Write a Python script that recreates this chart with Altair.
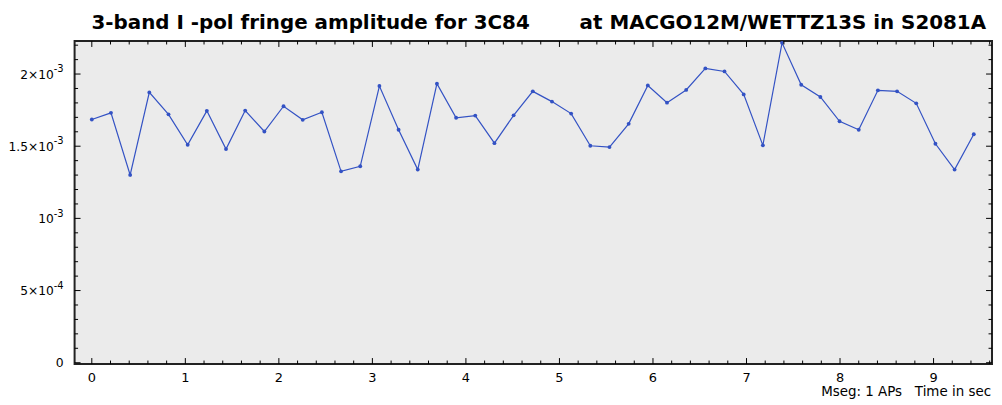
import altair as alt
import pandas as pd

# Sample times (sec) and fringe amplitudes
times = [0.0, 0.205, 0.41, 0.615, 0.82, 1.025, 1.23, 1.435, 1.64, 1.845,
         2.05, 2.255, 2.46, 2.665, 2.87, 3.075, 3.28, 3.485, 3.69, 3.895,
         4.1, 4.305, 4.51, 4.715, 4.92, 5.125, 5.33, 5.535, 5.74, 5.945,
         6.15, 6.355, 6.56, 6.765, 6.97, 7.175, 7.38, 7.585, 7.79, 7.995,
         8.2, 8.405, 8.61, 8.815, 9.02, 9.225, 9.43]
amplitudes = [1.685e-3, 1.731e-3, 1.301e-3, 1.873e-3, 1.721e-3, 1.510e-3, 1.745e-3, 1.480e-3,
              1.747e-3, 1.602e-3, 1.777e-3, 1.683e-3, 1.735e-3, 1.326e-3, 1.361e-3, 1.917e-3,
              1.614e-3, 1.338e-3, 1.933e-3, 1.697e-3, 1.712e-3, 1.521e-3, 1.714e-3, 1.880e-3,
              1.809e-3, 1.726e-3, 1.503e-3, 1.494e-3, 1.655e-3, 1.921e-3, 1.802e-3, 1.890e-3,
              2.039e-3, 2.018e-3, 1.859e-3, 1.506e-3, 2.216e-3, 1.926e-3, 1.841e-3, 1.673e-3,
              1.614e-3, 1.887e-3, 1.880e-3, 1.797e-3, 1.517e-3, 1.338e-3, 1.583e-3]

# Axis tick values and labels
x_ticks = [0, 1, 2, 3, 4, 5, 6, 7, 8, 9]
x_tick_labels = ["0", "1", "2", "3", "4", "5", "6", "7", "8", "9"]
y_ticks = [0.0005, 0.001, 0.0015, 0.002]
y_mantissas = ["5×10", "10", "1.5×10", "2×10"]
y_exponents = ["-4", "-3", "-3", "-3"]
y_zero = [0.0]
y_zero_label = ["0"]
x_minor = [round(i * 0.2, 1) for i in range(49) if i % 5]
y_minor = [round(i * 1e-4, 5) for i in range(23) if i % 5]

title_left = ["3-band I -pol fringe amplitude for 3C84"]
title_right = ["at MACGO12M/WETTZ13S in S2081A"]
xtitle = ["Mseg: 1 APs\u00a0\u00a0\u00a0Time in sec"]

W, H = 923, 325
XDOM = [-0.184, 9.625]
YDOM = [-0.000009, 0.002229]
LINE_COLOR = "#3352c4"
FONT = "DejaVu Sans"

df = pd.DataFrame({"t": times, "amp": amplitudes})
xs = alt.Scale(domain=XDOM, nice=False, zero=False)
ys = alt.Scale(domain=YDOM, nice=False, zero=False)
X = alt.X("t:Q", scale=xs, axis=None)
Y = alt.Y("amp:Q", scale=ys, axis=None)

line = alt.Chart(df).mark_line(color=LINE_COLOR, strokeWidth=1.2).encode(x=X, y=Y)
pts = alt.Chart(df).mark_circle(color=LINE_COLOR, size=15, opacity=1).encode(x=X, y=Y)

def xticks(vals, length):
    d = pd.DataFrame({"t": vals})
    base = alt.Chart(d).mark_rule(color="black", strokeWidth=1)
    bottom = base.encode(x=X, y=alt.value(H), y2=alt.value(H - length))
    top = base.encode(x=X, y=alt.value(0), y2=alt.value(length))
    return [bottom, top]

def yticks(vals, length):
    d = pd.DataFrame({"amp": vals})
    base = alt.Chart(d).mark_rule(color="black", strokeWidth=1)
    left = base.encode(y=Y, x=alt.value(0), x2=alt.value(length))
    right = base.encode(y=Y, x=alt.value(W - length), x2=alt.value(W))
    return [left, right]

# Tick labels as text marks
xlab_df = pd.DataFrame({"t": x_ticks, "lab": x_tick_labels})
xlabels = alt.Chart(xlab_df).mark_text(
    font=FONT, fontSize=13, color="black", align="center", baseline="alphabetic"
).encode(x=X, y=alt.value(H + 18), text="lab:N")

ylab_df = pd.DataFrame({"amp": y_ticks, "man": y_mantissas, "ex": y_exponents})
ymant = alt.Chart(ylab_df).mark_text(
    font=FONT, fontSize=12.3, color="black", align="right", baseline="alphabetic", dy=4.6
).encode(y=Y, x=alt.value(-21), text="man:N")
yexp = alt.Chart(ylab_df).mark_text(
    font=FONT, fontSize=10, color="black", align="left", baseline="alphabetic", dy=-1.8
).encode(y=Y, x=alt.value(-21), text="ex:N")
yzero = alt.Chart(pd.DataFrame({"amp": y_zero, "lab": y_zero_label})).mark_text(
    font=FONT, fontSize=12.5, color="black", align="right", baseline="alphabetic", dy=4.6
).encode(y=Y, x=alt.value(-11), text="lab:N")

xtitle_mark = alt.Chart(pd.DataFrame({"lab": xtitle})).mark_text(
    font=FONT, fontSize=13.5, color="black", align="right", baseline="alphabetic"
).encode(x=alt.value(W - 1), y=alt.value(H + 32), text="lab:N")

tl = alt.Chart(pd.DataFrame({"lab": title_left})).mark_text(
    font=FONT, fontSize=20, fontWeight="bold", color="black", align="left", baseline="alphabetic"
).encode(x=alt.value(17), y=alt.value(-12), text="lab:N")
tr = alt.Chart(pd.DataFrame({"lab": title_right})).mark_text(
    font=FONT, fontSize=20, fontWeight="bold", color="black", align="right", baseline="alphabetic"
).encode(x=alt.value(W - 6), y=alt.value(-12), text="lab:N")

layers = [line, pts] + (xticks(x_ticks, 6) + xticks(x_minor, 3.5) +
                        yticks(y_zero + y_ticks, 6) + yticks(y_minor, 3.5)) + \
         [xlabels, ymant, yexp, yzero, xtitle_mark, tl, tr]

chart = alt.layer(*layers).properties(
    width=W, height=H,
    background="white",
    autosize=alt.AutoSizeParams(type="none"),
    padding={"left": 67, "top": 32, "right": 2, "bottom": 35},
).configure_view(fill="#ebebeb", stroke="#222222", strokeWidth=2)

chart.save("out.html", embed_options={"renderer": "svg", "actions": False})
